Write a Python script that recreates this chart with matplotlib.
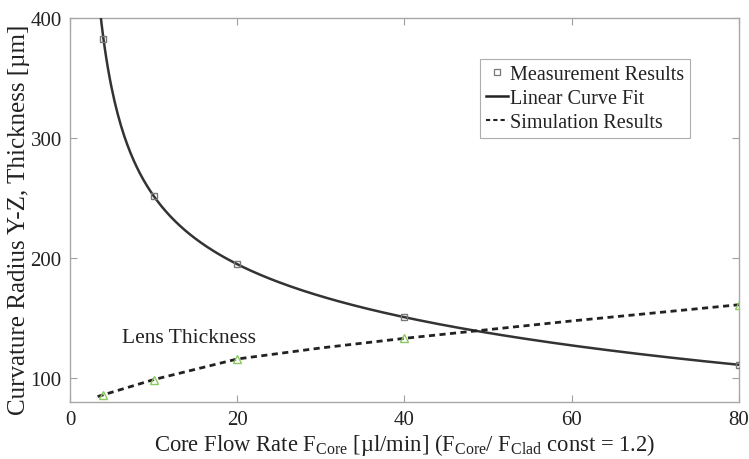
import numpy as np
import matplotlib
matplotlib.use("Agg")
import matplotlib.pyplot as plt
from matplotlib.lines import Line2D

plt.rcParams['font.family'] = ['Liberation Serif', 'DejaVu Serif']
plt.rcParams['mathtext.fontset'] = 'custom'
plt.rcParams['mathtext.rm'] = 'Liberation Serif'
plt.rcParams['mathtext.it'] = 'Liberation Serif:italic'

# Measurement results (curvature radius)
meas_x = [4, 10, 20, 40, 80]
meas_y = [382.5, 251.5, 195, 150.5, 111]

# Lens thickness markers
lens_x = [4, 10, 20, 40, 80]
lens_y = [86, 98.6, 115.5, 133, 161]

# Simulation results curve (dashed)
sim_x = [3.3, 4, 10, 20, 30, 40, 60, 80]
sim_y = [84.5, 86, 98.6, 115.8, 125, 133, 147.5, 161]

# Fit range
fit_x_range = [3.6, 80]

xticks = [0, 20, 40, 60, 80]
yticks = [100, 200, 300, 400]

fig = plt.figure(figsize=(7.49, 4.60), dpi=100)
ax = fig.add_axes([0.0935, 0.124, 0.893, 0.835])

# smooth fit (log-log cubic) through the measurements
coef = np.polyfit(np.log(meas_x), np.log(meas_y), 3)
fx = np.linspace(fit_x_range[0], fit_x_range[1], 400)
fy = np.exp(np.polyval(coef, np.log(fx)))

ax.plot(fx, fy, color='#333333', lw=1.8, zorder=3)
ax.plot(sim_x, sim_y, color='#222222', lw=2.0, dashes=(2.2, 1.6), zorder=3)
ax.plot(meas_x, meas_y, ls='none', marker='s', ms=5, mfc='none', mec='#777777', mew=1.0, zorder=4)
ax.plot(lens_x, lens_y, ls='none', marker='^', ms=6, mfc='none', mec='#8cc860', mew=1.0, zorder=4)

ax.text(6.2, 134, 'Lens Thickness', fontsize=15.5, color='#222222', va='center', ha='left')

ax.set_xlim(0, 80)
ax.set_ylim(80, 400)
ax.set_xticks(xticks)
ax.set_yticks(yticks)
ax.tick_params(direction='in', top=True, right=True, length=5, width=0.8,
               color='#a0a0a0', labelsize=15, labelcolor='#222222', pad=6)
for s in ax.spines.values():
    s.set_color('#a8a8a8')
    s.set_linewidth(1.0)

ax.set_xlabel(r'Core Flow Rate F$_{\mathrm{Core}}$ [µl/min] (F$_{\mathrm{Core}}$/ F$_{\mathrm{Clad}}$ const = 1.2)',
              fontsize=16.3, color='#222222', labelpad=1)
ax.set_ylabel('Curvature Radius Y-Z, Thickness [µm]', fontsize=18, color='#222222')
ax.yaxis.set_label_coords(-0.06, 0.477)

handles = [
    Line2D([], [], ls='none', marker='s', ms=4, mfc='none', mec='#777777', mew=0.9),
    Line2D([], [], color='#222222', lw=1.8),
    Line2D([], [], color='#222222', lw=1.5, dashes=(2, 1.5)),
]
labels = ['Measurement Results', 'Linear Curve Fit', 'Simulation Results']
leg = ax.legend(handles, labels, loc='upper left', bbox_to_anchor=(0.613, 0.893),
                fontsize=14.5, frameon=True, fancybox=False, handlelength=1.1,
                handletextpad=0.1, borderpad=0.3, labelspacing=0.25, borderaxespad=0)
leg.get_frame().set_edgecolor('#999999')
leg.get_frame().set_linewidth(0.8)
for t in leg.get_texts():
    t.set_color('#222222')

fig.savefig('out.png', dpi=100)
